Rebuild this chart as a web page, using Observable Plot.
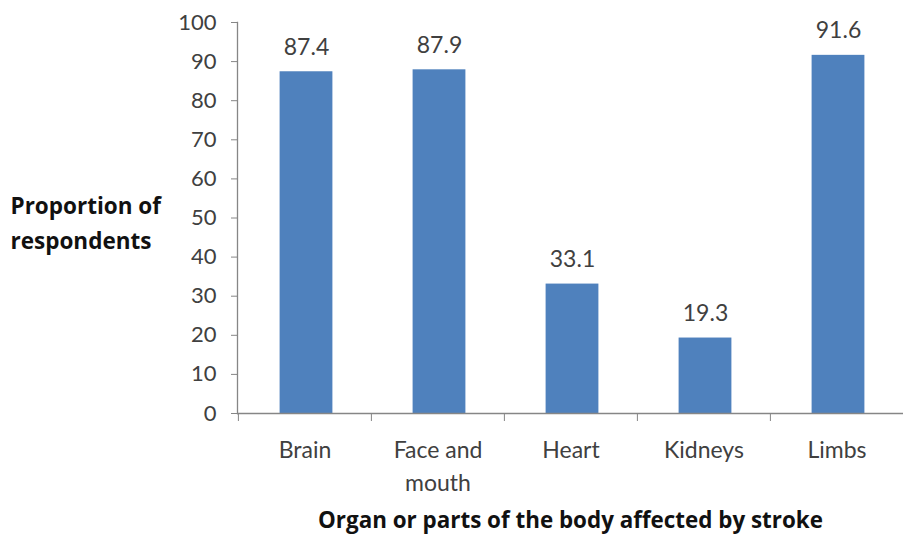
<!DOCTYPE html>
<html>
<head>
<meta charset="utf-8">
<script src="https://cdn.jsdelivr.net/npm/d3@7"></script>
<script src="https://cdn.jsdelivr.net/npm/@observablehq/plot@0.6"></script>
<style>
  html, body { margin: 0; padding: 0; background: #fff; }
  #chart svg { display: block; }
</style>
</head>
<body>
<div id="chart"></div>
<script>
const categories = ["Brain", "Face and\nmouth", "Heart", "Kidneys", "Limbs"];
const values = [87.4, 87.9, 33.1, 19.3, 91.6];
const yTicks = [0, 10, 20, 30, 40, 50, 60, 70, 80, 90, 100];
const yLabel = "Proportion of\nrespondents";
const xLabel = "Organ or parts of the body affected by stroke";

const data = categories.map((c, i) => ({category: c, value: values[i]}));

const W = 903, H = 537;
const mL = 237, mR = 0, mT = 22, mB = 124;
const step = (W - mL - mR) / categories.length;
const barW = 53;
const inset = (step - barW) / 2;
const textColor = "#404040";
const axisColor = "#868686";

const chart = Plot.plot({
  width: W,
  height: H,
  marginLeft: mL,
  marginRight: mR,
  marginTop: mT,
  marginBottom: mB,
  style: {fontFamily: "Lato, sans-serif", color: textColor, background: "#fff"},
  x: {domain: categories, type: "band", paddingInner: 0, paddingOuter: 0, label: null},
  y: {domain: [0, 100], label: null},
  marks: [
    Plot.barY(data, {x: "category", y: "value", fill: "#4f81bd", insetLeft: inset + 1.5, insetRight: inset - 1.5}),
    Plot.text(data, {x: "category", y: "value", text: d => d.value.toFixed(1), dx: 1.5, dy: -17, lineAnchor: "bottom", fontSize: 23, fill: textColor}),
    // y axis
    Plot.axisY({ticks: yTicks, tickSize: 6, tickPadding: 15, fontSize: 22, stroke: axisColor, color: textColor, label: null}),
    Plot.frame({anchor: "left", stroke: axisColor, strokeWidth: 1.3}),
    Plot.ruleY([0], {stroke: axisColor, strokeWidth: 1.3}),
    // x boundary ticks
    Plot.axisX({tickSize: 8, tickFormat: () => "", dx: -step / 2, stroke: axisColor, label: null}),
    Plot.axisX({ticks: [categories[categories.length - 1]], tickSize: 8, tickFormat: () => "", dx: step / 2, stroke: axisColor, label: null}),
    // x labels
    Plot.axisX({tickSize: 0, tickPadding: 22, fontSize: 23, lineHeight: 1.4, color: textColor, label: null}),
    // axis titles
    Plot.text([yLabel], {frameAnchor: "left", dx: -227, dy: 2, textAnchor: "start", lineHeight: 1.55, fontSize: 22.5, fontWeight: "bold", fontFamily: "'Open Sans', sans-serif", fill: "#111"}),
    Plot.text([xLabel], {frameAnchor: "bottom", dx: 0, dy: 114, fontSize: 22.4, fontWeight: "bold", fontFamily: "'Open Sans', sans-serif", fill: "#111"})
  ]
});
document.getElementById("chart").appendChild(chart);
</script>
</body>
</html>
